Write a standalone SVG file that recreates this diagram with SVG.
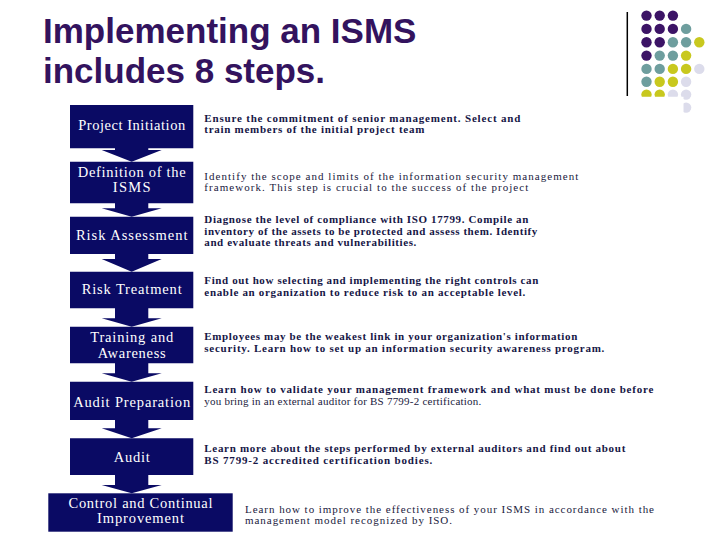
<svg xmlns="http://www.w3.org/2000/svg" width="720" height="540" viewBox="0 0 720 540">
<defs>
<style>
.title{font-family:"Liberation Sans",Arial,sans-serif;font-weight:bold;font-size:35px;fill:#33135E}
.box{fill:#0A0A64}
.lbl{font-family:"Liberation Serif","Times New Roman",serif;font-size:14.5px;fill:#FFFFFF;text-anchor:middle}
.desc{font-family:"Liberation Serif","Times New Roman",serif;font-size:11px;font-weight:bold;fill:#161646}
.desc.light{font-weight:normal;fill:#1A1A40}
.p{fill:#3C1466}.t{fill:#6E9E9E}.y{fill:#C8C81E}.l{fill:#DCDCEB}
</style>
<clipPath id="dotclip"><path d="M620,0 H720 V540 H683.5 V96.8 H620 Z"/></clipPath>
</defs>
<rect width="720" height="540" fill="#FFFFFF"/>
<g id="title">
<text class="title" x="43" y="42.5">Implementing an ISMS</text>
<text class="title" x="43" y="82.5">includes 8 steps.</text>
</g>
<g id="decoration">
<line x1="627.3" y1="12" x2="627.3" y2="96" stroke="#000000" stroke-width="1.5"/>
<g clip-path="url(#dotclip)">
<circle class="p" cx="646.5" cy="15.6" r="5.2"/><circle class="p" cx="659.7" cy="15.6" r="5.2"/><circle class="p" cx="672.9" cy="15.6" r="5.2"/>
<circle class="p" cx="646.5" cy="28.9" r="5.2"/><circle class="p" cx="659.7" cy="28.9" r="5.2"/><circle class="p" cx="672.9" cy="28.9" r="5.2"/><circle class="t" cx="686.1" cy="28.9" r="5.2"/>
<circle class="p" cx="646.5" cy="42.3" r="5.2"/><circle class="p" cx="659.7" cy="42.3" r="5.2"/><circle class="t" cx="672.9" cy="42.3" r="5.2"/><circle class="t" cx="686.1" cy="42.3" r="5.2"/><circle class="y" cx="699.3" cy="42.3" r="5.2"/>
<circle class="p" cx="646.5" cy="55.6" r="5.2"/><circle class="t" cx="659.7" cy="55.6" r="5.2"/><circle class="t" cx="672.9" cy="55.6" r="5.2"/><circle class="y" cx="686.1" cy="55.6" r="5.2"/>
<circle class="t" cx="646.5" cy="68.9" r="5.2"/><circle class="t" cx="659.7" cy="68.9" r="5.2"/><circle class="y" cx="672.9" cy="68.9" r="5.2"/><circle class="y" cx="686.1" cy="68.9" r="5.2"/><circle class="l" cx="699.3" cy="68.9" r="5.2"/>
<circle class="t" cx="646.5" cy="81.8" r="5.2"/><circle class="y" cx="659.7" cy="81.8" r="5.2"/><circle class="y" cx="672.9" cy="81.8" r="5.2"/><circle class="l" cx="686.1" cy="81.8" r="5.2"/>
<circle class="y" cx="646.5" cy="94.6" r="5.2"/><circle class="y" cx="659.7" cy="94.6" r="5.2"/><circle class="l" cx="672.9" cy="94.6" r="5.2"/><circle class="l" cx="686.1" cy="94.6" r="5.2"/>
<circle class="l" cx="686.1" cy="107.6" r="5.2"/>
</g>
</g>
<g id="step1">
<path class="box" d="M70,105 H193.3 V148.3 H148.3 V150 H161.7 L131.7,161.7 L101.7,150 H115 V148.3 H70 Z"/>
<text class="lbl" x="131.7" y="130" textLength="107" lengthAdjust="spacing">Project Initiation</text>
<text class="desc" x="204.3" y="121.7" textLength="316" lengthAdjust="spacing">Ensure the commitment of senior management. Select and</text>
<text class="desc" x="204.3" y="133.3" textLength="220" lengthAdjust="spacing">train members of the initial project team</text>
</g>
<g id="step2">
<path class="box" d="M70,161.7 H193.3 V203.3 H148.3 V208.3 H161.7 L131.7,216.7 L101.7,208.3 H115 V203.3 H70 Z"/>
<text class="lbl" x="131.7" y="177" textLength="108" lengthAdjust="spacing">Definition of the</text>
<text class="lbl" x="131.7" y="192.2" textLength="38" lengthAdjust="spacing">ISMS</text>
<text class="desc light" x="204.3" y="180" textLength="374" lengthAdjust="spacing">Identify the scope and limits of the information security management</text>
<text class="desc light" x="204.3" y="191" textLength="324" lengthAdjust="spacing">framework.  This step is crucial to the success of the project</text>
</g>
<g id="step3">
<path class="box" d="M70,216.7 H193.3 V254 H148.3 V259 H161.7 L131.7,271.7 L101.7,259 H115 V254 H70 Z"/>
<text class="lbl" x="131.7" y="240" textLength="111.6" lengthAdjust="spacing">Risk Assessment</text>
<text class="desc" x="204.3" y="223.3" textLength="324" lengthAdjust="spacing">Diagnose the level of compliance with ISO 17799. Compile an</text>
<text class="desc" x="204.3" y="235" textLength="333" lengthAdjust="spacing">inventory of the assets to be protected and assess them. Identify</text>
<text class="desc" x="204.3" y="245.7" textLength="212" lengthAdjust="spacing">and evaluate threats and vulnerabilities.</text>
</g>
<g id="step4">
<path class="box" d="M70,271.7 H193.3 V308.3 H148.3 V318.3 H161.7 L131.7,326.7 L101.7,318.3 H115 V308.3 H70 Z"/>
<text class="lbl" x="131.7" y="294.3" textLength="100" lengthAdjust="spacing">Risk Treatment</text>
<text class="desc" x="204.3" y="284" textLength="334" lengthAdjust="spacing">Find out how selecting and implementing the right controls can</text>
<text class="desc" x="204.3" y="296" textLength="321" lengthAdjust="spacing">enable an organization to reduce risk to an acceptable level.</text>
</g>
<g id="step5">
<path class="box" d="M70,326.7 H193.3 V363.3 H148.3 V373.3 H161.7 L131.7,381.7 L101.7,373.3 H115 V363.3 H70 Z"/>
<text class="lbl" x="131.7" y="342.3" textLength="83" lengthAdjust="spacing">Training and</text>
<text class="lbl" x="131.7" y="357.5" textLength="68" lengthAdjust="spacing">Awareness</text>
<text class="desc" x="204.3" y="340" textLength="373" lengthAdjust="spacing">Employees may be the weakest link in your organization's information</text>
<text class="desc" x="204.3" y="351.7" textLength="400" lengthAdjust="spacing">security.  Learn how to set up an information security awareness program.</text>
</g>
<g id="step6">
<path class="box" d="M70,381.7 H193.3 V420 H148.3 V428.3 H161.7 L131.7,438.3 L101.7,428.3 H115 V420 H70 Z"/>
<text class="lbl" x="131.7" y="406.7" textLength="117" lengthAdjust="spacing">Audit Preparation</text>
<text class="desc" x="204.3" y="393.3" textLength="449" lengthAdjust="spacing">Learn how to validate your management framework and what must be done before</text>
<text class="desc light" x="204.3" y="405" textLength="277" lengthAdjust="spacing">you bring in an external auditor for BS 7799-2 certification.</text>
</g>
<g id="step7">
<path class="box" d="M70,438.3 H193.3 V475 H148.3 V485 H161.7 L131.7,493.3 L101.7,485 H115 V475 H70 Z"/>
<text class="lbl" x="131.7" y="461.7" textLength="36" lengthAdjust="spacing">Audit</text>
<text class="desc" x="204.3" y="451.7" textLength="421" lengthAdjust="spacing">Learn more about the steps performed by external auditors and find out about</text>
<text class="desc" x="204.3" y="464.3" textLength="228" lengthAdjust="spacing">BS  7799-2 accredited certification bodies.</text>
</g>
<g id="step8">
<rect class="box" x="48.3" y="493.3" width="184.4" height="38.4"/>
<text class="lbl" x="140.5" y="508.3" textLength="144" lengthAdjust="spacing">Control and Continual</text>
<text class="lbl" x="140.5" y="523.3" textLength="87" lengthAdjust="spacing">Improvement</text>
<text class="desc light" x="245" y="513.3" textLength="409" lengthAdjust="spacing">Learn how to improve the effectiveness of your ISMS in accordance with the</text>
<text class="desc light" x="245" y="524.3" textLength="207" lengthAdjust="spacing">management model recognized by ISO.</text>
</g>
<g id="connectors"></g>
</svg>
